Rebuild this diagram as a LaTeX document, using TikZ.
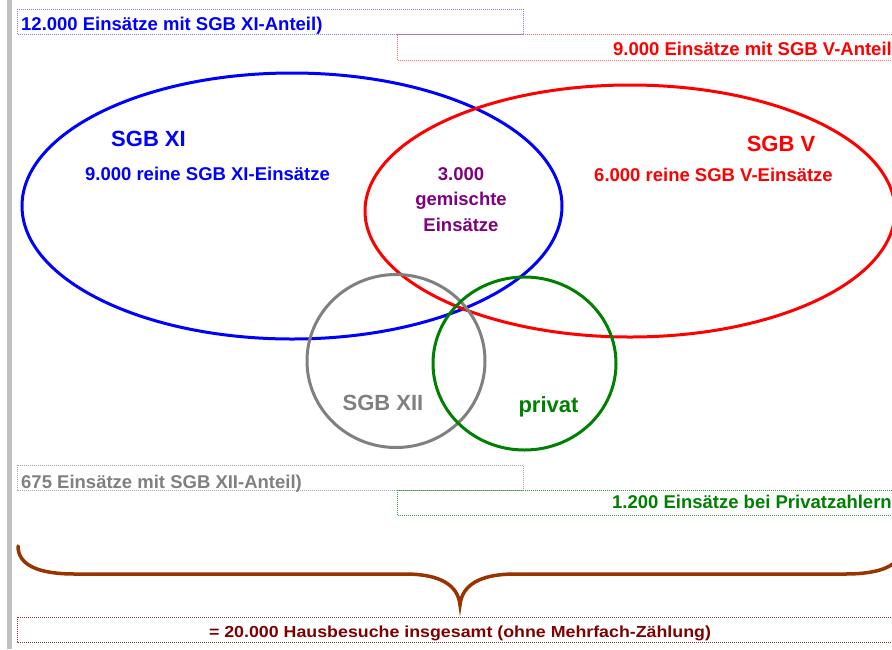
\documentclass[tikz,border=0pt]{standalone}
\usepackage{fontspec}
\setmainfont{Liberation Sans}
\usetikzlibrary{shapes.geometric}

\definecolor{xiblue}{HTML}{0000FF}
\definecolor{vred}{HTML}{FF0000}
\definecolor{mixpurple}{HTML}{800080}
\definecolor{xiigray}{HTML}{808080}
\definecolor{privgreen}{HTML}{008000}
\definecolor{bracebrown}{HTML}{993300}
\definecolor{sumred}{HTML}{800000}
\definecolor{bargray}{HTML}{C0C0C0}

\begin{document}
\begin{tikzpicture}[x=1pt, y=-1pt,
    set/.style={draw, ellipse, line width=3pt, inner sep=0},
    big/.style={font=\fontsize{22}{26}\selectfont\bfseries, anchor=base},
    small/.style={font=\fontsize{18.5}{25.5}\selectfont\bfseries},
    frame/.style={line width=1pt, dash pattern=on 1pt off 1pt}]

    \useasboundingbox (0,0) rectangle (892,649);
    \clip (0,0) rectangle (892,649);

    % left margin bar
    \fill[bargray] (7,0) rectangle (12,649);

    % Sets
    \node[set, xiblue, minimum width=540, minimum height=266] (xi) at (292,206) {};
    \node[set, vred, minimum width=530, minimum height=252] (v) at (630,211) {};
    \node[set, xiigray, minimum width=178, minimum height=173] (xii) at (396,361) {};
    \node[set, privgreen, minimum width=183, minimum height=173] (priv) at (524.5,363.5) {};

    % Set labels
    \node[big, xiblue] (xiname) at (148.5,146) {SGB XI};
    \node[small, anchor=base, xiblue] (xionly) at (207.5,180) {9.000 reine SGB XI-Einsätze};
    \node[big, vred] (vname) at (781,151) {SGB V};
    \node[small, anchor=base, vred] (vonly) at (713.5,181) {6.000 reine SGB V-Einsätze};
    \node[small, align=center, inner sep=0, mixpurple] (mixed) at (461,199.5)
        {3.000\\gemischte\\Einsätze};
    \node[big, xiigray] (xiiname) at (383,410) {SGB XII};
    \node[big, privgreen] (privname) at (548.5,412) {privat};

    % Count boxes
    \draw[frame, xiblue!50] (17,9) rectangle (523,34.5);
    \node[small, anchor=base west, inner sep=0, xiblue] (xicount) at (21,30)
        {12.000 Einsätze mit SGB XI-Anteil)};
    \draw[frame, vred!60] (397,34.5) rectangle (900,60);
    \node[small, anchor=base east, inner sep=0, vred] (vcount) at (892,55.5)
        {9.000 Einsätze mit SGB V-Anteil};
    \draw[frame, xiigray!70] (17,465) rectangle (523,490);
    \node[small, anchor=base west, inner sep=0, xiigray] (xiicount) at (21,488)
        {675 Einsätze mit SGB XII-Anteil)};
    \draw[frame, privgreen!75] (397,490) rectangle (900,515.5);
    \node[small, anchor=base east, inner sep=0, privgreen] (privcount) at (892,508)
        {1.200 Einsätze bei Privatzahlern};

    % Brace and total
    \draw[bracebrown, line width=3.5pt, line cap=round]
        (18,546) .. controls (18,566) and (40,574) .. (75,574) -- (405,574)
        .. controls (440,574) and (458,585) .. (460,605)
        .. controls (462,585) and (480,574) .. (515,574) -- (845,574)
        .. controls (880,574) and (902,566) .. (902,546);
    \draw[frame, sumred!80] (17,617) rectangle (900,642);
    \node[anchor=base, inner sep=0, sumred, font=\fontsize{17.8}{20}\selectfont\bfseries]
        (total) at (460,637)
        {\scalebox{1}[0.9]{= 20.000 Hausbesuche insgesamt (ohne Mehrfach-Zählung)}};

\end{tikzpicture}
\end{document}
